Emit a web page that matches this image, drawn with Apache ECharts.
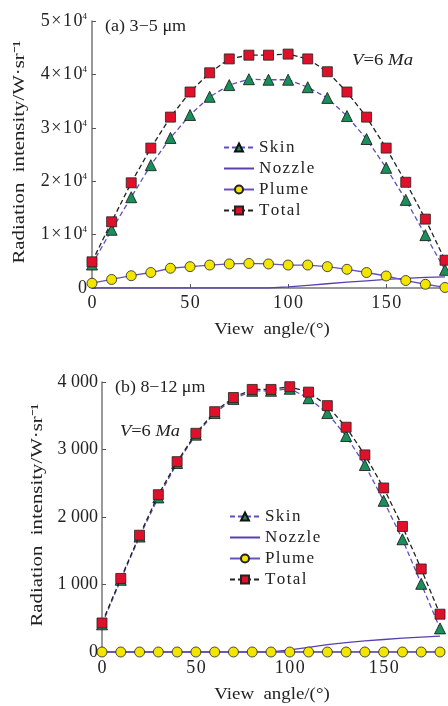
<!DOCTYPE html>
<html>
<head>
<meta charset="utf-8">
<script src="https://cdn.jsdelivr.net/npm/echarts@6/dist/echarts.min.js"></script>
<style>html,body{margin:0;padding:0;background:#fff}#c{width:448px;height:706px}</style>
</head>
<body>
<div id="c"></div>
<script>
var angles = [0,10,20,30,40,50,60,70,80,90,100,110,120,130,140,150,160,170,180];
var skinA = [4400,10900,17000,23000,28100,32400,35800,38000,39100,39000,39000,37600,35600,32200,27900,22500,16500,9900,3400];
var nozzleA = [0,0,0,0,0,0,0,0,0,0,200,500,800,1100,1350,1600,1800,2000,2100];
var plumeA = [900,1600,2300,2900,3700,4000,4300,4500,4600,4500,4300,4300,4000,3500,2900,2250,1400,700,100];
var totalA = [4900,12400,19700,26200,32000,36700,40300,42900,43600,43600,43800,42900,40500,36700,32000,26200,19800,12900,5200];
var skinB = [410,1070,1710,2290,2800,3220,3540,3750,3870,3870,3900,3760,3540,3200,2770,2240,1670,1010,350];
var nozzleB = [0,0,0,0,0,0,0,0,0,0,30,70,110,140,165,185,205,220,235];
var plumeB = [0,0,0,0,0,0,0,0,0,0,0,0,0,0,0,0,0,0,0];
var totalB = [430,1090,1730,2330,2820,3240,3560,3770,3890,3890,3930,3850,3650,3330,2920,2430,1860,1230,560];
var xTicks = [0,50,100,150];
var yTicksA = ['0','1×10','2×10','3×10','4×10','5×10'];
var yTicksB = ['0','1 000','2 000','3 000','4 000'];
var seriesNames = ['Skin','Nozzle','Plume','Total'];

var FONT = "'Liberation Serif','Times New Roman',serif";
var HS = '\u200A';
function sp(s){ return s.split('').join(HS); }
function pairs(v){ return angles.map(function(a,i){ return [a, v[i]]; }); }

function seriesSet(k, skin, nozzle, plume, total){
  return [
    {name:'Skin', type:'line', xAxisIndex:k, yAxisIndex:k, data:pairs(skin), symbol:'triangle', symbolSize:11,
     lineStyle:{color:'#5e4fbf', width:1.3, type:[5,3]}, itemStyle:{color:'#1a8f5c', borderColor:'#111', borderWidth:0.8}, z:3},
    {name:'Nozzle', type:'line', xAxisIndex:k, yAxisIndex:k, data:pairs(nozzle), showSymbol:false, symbol:'none',
     lineStyle:{color:'#5a3fb3', width:1.3}, itemStyle:{color:'#5a3fb3'}, z:2},
    {name:'Plume', type:'line', xAxisIndex:k, yAxisIndex:k, data:pairs(plume), symbol:'circle', symbolSize:10,
     lineStyle:{color:'#6a4fc4', width:1.3}, itemStyle:{color:'#f2e600', borderColor:'#222', borderWidth:0.8}, z:4},
    {name:'Total', type:'line', xAxisIndex:k, yAxisIndex:k, data:pairs(total), symbol:'rect', symbolSize:10,
     lineStyle:{color:'#222', width:1.3, type:[5,3]}, itemStyle:{color:'#e0102b', borderColor:'#222', borderWidth:0.8}, z:5}
  ];
}

function xAx(k, margin){
  return {type:'value', gridIndex:k, min:0, max:180, interval:50,
    axisLine:{lineStyle:{color:'#777', width:1.5}}, axisTick:{inside:true, length:4, lineStyle:{color:'#555'}},
    splitLine:{show:false},
    axisLabel:{fontFamily:FONT, fontSize:18, color:'#222', margin:margin,
      formatter:function(v){ return xTicks.indexOf(v)>=0 ? sp(String(v)) : ''; }}};
}

function legendData(){
  return seriesNames.map(function(n){
    return n==='Nozzle' ? {name:n, itemStyle:{color:'rgba(0,0,0,0)', borderColor:'rgba(0,0,0,0)', borderWidth:0}} : {name:n};
  });
}

function txt(x, y, text, scale, opts){
  var o = {type:'text', x:x, y:y, scaleX:scale, style:{text:text, font:'16px '+FONT, fill:'#222', textVerticalAlign:'middle'}};
  if (opts) { for (var k in opts) { if (k==='style') { for (var s in opts.style) o.style[s]=opts.style[s]; } else o[k]=opts[k]; } }
  return o;
}
var vRich = {i:{fontFamily:FONT, fontSize:16, fontStyle:'italic', fill:'#222'}, n:{fontFamily:FONT, fontSize:16, fill:'#222'}};

var chart = echarts.init(document.getElementById('c'));
chart.setOption({
  animation:false,
  backgroundColor:'#fff',
  grid:[{left:92, top:21, width:356, height:267}, {left:102, top:382, width:338, height:270}],
  xAxis:[xAx(0, 6), xAx(1, 7)],
  yAxis:[
    {type:'value', gridIndex:0, min:0, max:50000, interval:10000,
     axisLine:{show:true, lineStyle:{color:'#777', width:1.5}}, axisTick:{show:true, inside:true, length:4, lineStyle:{color:'#555'}},
     splitLine:{show:false},
     axisLabel:{margin:5, color:'#222', fontFamily:FONT,
       formatter:function(v){ var i=v/10000; return i===0 ? '{b|0}' : '{b|'+sp(yTicksA[i])+'}{s|4}'; },
       rich:{b:{fontFamily:FONT, fontSize:18, color:'#222', lineHeight:18}, s:{fontFamily:FONT, fontSize:9, color:'#222', verticalAlign:'top', lineHeight:9}}}},
    {type:'value', gridIndex:1, min:0, max:4000, interval:1000,
     axisLine:{show:true, lineStyle:{color:'#777', width:1.5}}, axisTick:{show:true, inside:true, length:4, lineStyle:{color:'#555'}},
     splitLine:{show:false},
     axisLabel:{margin:4, color:'#222', fontFamily:FONT, fontSize:18,
       formatter:function(v){ return yTicksB[v/1000]; }}}
  ],
  legend:[
    {orient:'vertical', left:218, top:134, itemWidth:30, itemHeight:10, itemGap:4, data:legendData(),
     formatter:function(n){ return sp(n); },
     textStyle:{fontFamily:FONT, fontSize:17, color:'#222'}, selectedMode:false},
    {orient:'vertical', left:224, top:503, itemWidth:30, itemHeight:10, itemGap:4, data:legendData(),
     formatter:function(n){ return sp(n); },
     textStyle:{fontFamily:FONT, fontSize:17, color:'#222'}, selectedMode:false}
  ],
  graphic:[
    txt(105, 27, '(a) 3−5 μm', 1.13),
    txt(352, 61, '{i|V}{n|=6 }{i|Ma}', 1.17, {style:{rich:vRich}}),
    txt(115, 388, '(b) 8−12 μm', 1.12),
    txt(120, 432, '{i|V}{n|=6 }{i|Ma}', 1.15, {style:{rich:vRich}}),
    txt(272, 330, 'View  angle/(°)', 1.18, {style:{textAlign:'center'}}),
    txt(272, 695, 'View  angle/(°)', 1.18, {style:{textAlign:'center'}}),
    txt(20, 152, 'Radiation  intensity/W·sr⁻¹', 1.3, {rotation:Math.PI/2, style:{textAlign:'center'}}),
    txt(38, 515, 'Radiation  intensity/W·sr⁻¹', 1.3, {rotation:Math.PI/2, style:{textAlign:'center'}})
  ],
  series: seriesSet(0, skinA, nozzleA, plumeA, totalA).concat(seriesSet(1, skinB, nozzleB, plumeB, totalB))
});
</script>
</body>
</html>
